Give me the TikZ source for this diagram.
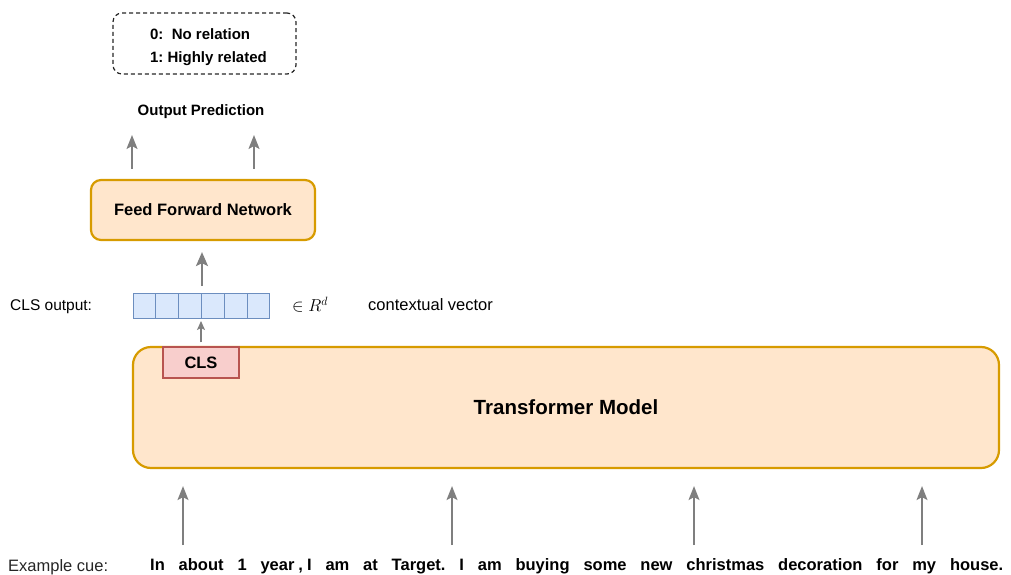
\documentclass[tikz,border=0pt]{standalone}
\usepackage{fontspec}
\setmainfont{Liberation Sans}
\usetikzlibrary{arrows.meta}
\definecolor{orfill}{HTML}{FFE6CC}
\definecolor{ordraw}{HTML}{D79B00}
\definecolor{blfill}{HTML}{DAE8FC}
\definecolor{bldraw}{HTML}{6C8EBF}
\definecolor{rdfill}{HTML}{F8CECC}
\definecolor{rddraw}{HTML}{B85450}
\definecolor{arrgray}{HTML}{7F7F7F}
\begin{document}
\frenchspacing
\begin{tikzpicture}[x=1pt,y=-1pt,
  orbox/.style={draw=ordraw,fill=orfill,line width=2.2pt,inner sep=0pt},
  cell/.style={draw=bldraw,fill=blfill,line width=1pt,minimum width=22.83pt,minimum height=25pt,inner sep=0pt},
  clsbox/.style={draw=rddraw,fill=rdfill,line width=1.2pt,minimum width=76pt,minimum height=31pt,inner sep=0pt,font=\fontsize{16.5}{20}\selectfont\bfseries},
  legendbox/.style={draw=black!85,dash pattern=on 4pt off 3pt,line width=1.2pt,rounded corners=9pt,minimum width=183pt,minimum height=61pt,inner sep=0pt,align=left,font=\fontsize{15}{23}\selectfont\bfseries},
  arr/.style={draw=arrgray,line width=1.3pt,-{Stealth[length=14pt,width=11pt,inset=3pt]}},
  arrbig/.style={draw=arrgray,line width=2.2pt,-{Stealth[length=14pt,width=12pt,inset=3pt]}},
  arrsmall/.style={draw=arrgray,line width=1.2pt,-{Stealth[length=9pt,width=8pt,inset=2pt]}},
  lbl/.style={inner sep=0pt,font=\fontsize{16.5}{20}\selectfont}
]
\useasboundingbox (0,0) rectangle (1011,575);

% Transformer model
\node[orbox,rounded corners=18pt,minimum width=866pt,minimum height=121pt,font=\fontsize{20.5}{24}\selectfont\bfseries] (tm) at (566,407.5) {Transformer Model};
\node[clsbox] (cls) at (201,362.5) {CLS};

% CLS output vector
\foreach \i in {1,...,6}{
  \node[cell] (v\i) at ({133+22.83*(\i-0.5)},306) {};
}
\node[inner sep=0pt,anchor=west,font=\fontsize{15.5}{19}\selectfont] (clsout) at (10,307) {CLS output:};
\node[inner sep=0pt,font=\fontsize{18.5}{22}\selectfont] (inR) at (310,305) {$\in R^{d}$};
\node[lbl,anchor=west] (ctx) at (368,305) {contextual vector};

% Feed forward network
\node[orbox,rounded corners=10pt,minimum width=224pt,minimum height=60pt,font=\fontsize{16.5}{20}\selectfont\bfseries] (ffn) at (203,210) {Feed Forward Network};

% Output
\node[inner sep=0pt,font=\fontsize{15}{18}\selectfont\bfseries] (outp) at (201,112) {Output Prediction};
\node[legendbox] (legend) at (204.5,43.5) {\rule{0pt}{18.5pt}\hspace*{8pt}0:\ \ No relation\\\hspace*{8pt}1: Highly related};

% connectors
\draw[arrsmall,shorten <=4pt,shorten >=2pt] (cls.north) -- (cls.north |- v3.south);
\draw[arrbig,shorten <=7pt,shorten >=11pt] (v3.north east) -- (v3.north east |- ffn.south);
\coordinate (o1) at (132,135);
\coordinate (o2) at (254,135);
\draw[arr,shorten <=10pt] (o1 |- ffn.north) -- (o1);
\draw[arr,shorten <=10pt] (o2 |- ffn.north) -- (o2);

% input
\foreach \x [count=\k] in {183,452,694,922}{
  \coordinate (in\k) at (\x,545);
  \draw[arr,shorten >=17pt] (in\k) -- (in\k |- tm.south);
}
\node[lbl,anchor=west,text=black!85] (excue) at (8,567) {Example cue:};
\node[inner sep=0pt,anchor=west,font=\fontsize{16.5}{20}\selectfont\bfseries] (sent) at (150,566) {\makebox[853pt][s]{In about 1 year\kern4pt,\kern4pt I am at Target. I am buying some new christmas decoration for my house.}};
\end{tikzpicture}
\end{document}
